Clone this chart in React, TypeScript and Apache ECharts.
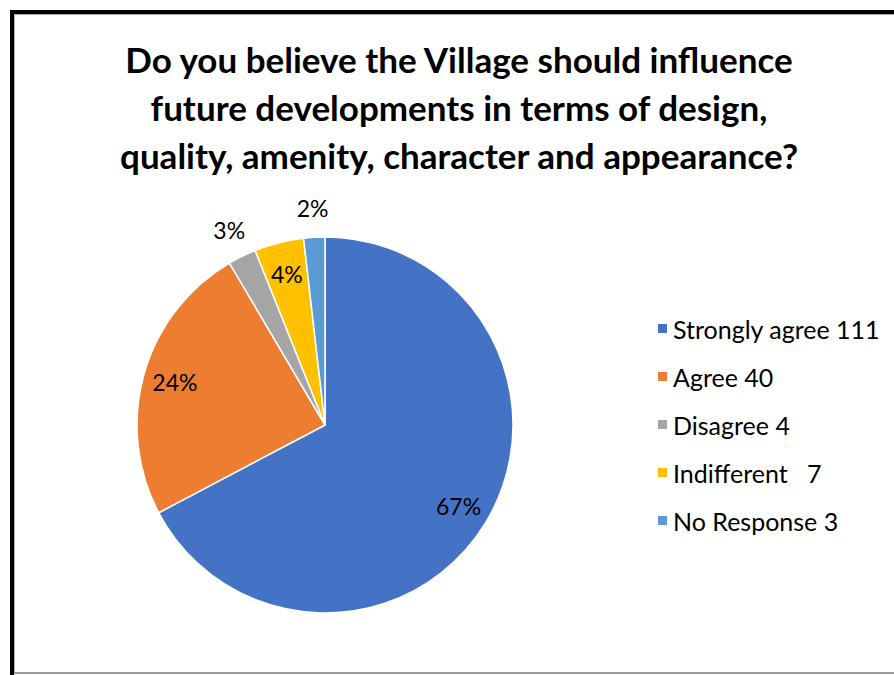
import React, { useEffect, useRef } from "react";
import * as echarts from "echarts";

const titleLines = [
  "Do you believe the Village should influence",
  "future developments in terms of design,",
  "quality, amenity, character and appearance?",
];
const categories = [
  "Strongly agree 111",
  "Agree 40",
  "Disagree 4",
  "Indifferent   7",
  "No Response 3",
];
const values = [111, 40, 4, 7, 3];
const colors = ["#4472C4", "#ED7D31", "#A5A5A5", "#FFC000", "#5B9BD5"];
// which labels sit outside the pie (small slices)
const outsideLabel = [false, false, true, false, true];

const FONT = "Lato, 'Open Sans', sans-serif";

export default function App() {
  const ref = useRef<HTMLDivElement>(null);
  useEffect(() => {
    if (!ref.current) return;
    const chart = echarts.init(ref.current, undefined, { renderer: "svg" });
    const center = [325, 425];
    const R = 188;
    const baseData = categories.map((n, i) => ({
      name: n,
      value: values[i],
      itemStyle: { color: colors[i] },
    }));
    const labelStyle = {
      fontFamily: FONT,
      fontSize: 23,
      color: "#000",
      formatter: "{d}%",
    };
    chart.setOption({
      animation: false,
      backgroundColor: "#fff",
      title: {
        text: titleLines.join("\n"),
        left: 454,
        textAlign: "center",
        top: 30,
        textStyle: {
          fontFamily: FONT,
          fontWeight: "bold",
          fontSize: 35,
          lineHeight: 48,
          color: "#000",
        },
      },
      legend: {
        orient: "vertical",
        left: 651,
        top: 311,
        icon: "rect",
        itemWidth: 11,
        itemHeight: 11,
        itemGap: 23,
        data: categories,
        selectedMode: false,
        textStyle: {
          fontFamily: FONT,
          fontSize: 25,
          color: "#000",
          padding: [0, 0, 0, 0],
        },
      },
      graphic: [
        { type: "rect", shape: { x: 10, y: 10, width: 900, height: 4 }, style: { fill: "#000" } },
        { type: "rect", shape: { x: 10, y: 10, width: 4, height: 670 }, style: { fill: "#000" } },
        { type: "rect", shape: { x: 14, y: 14, width: 900, height: 1 }, style: { fill: "#aaa" } },
        { type: "rect", shape: { x: 14, y: 14, width: 1, height: 660 }, style: { fill: "#aaa" } },
        { type: "rect", shape: { x: 14, y: 672, width: 900, height: 2 }, style: { fill: "#999" } },
      ],
      series: [
        {
          type: "pie",
          center,
          radius: R,
          startAngle: 90,
          clockwise: true,
          silent: true,
          data: baseData,
          label: { show: false },
          labelLine: { show: false },
          itemStyle: { borderColor: "#fff", borderWidth: 1.5 },
        },
        {
          type: "pie",
          center,
          radius: [0, 306],
          startAngle: 90,
          silent: true,
          percentPrecision: 0,
          data: categories.map((n, i) => ({
            name: n,
            value: values[i],
            itemStyle: { color: "rgba(0,0,0,0)" },
            label: { show: !outsideLabel[i] },
          })),
          label: { ...labelStyle, position: "inside" },
          labelLine: { show: false },
        },
        {
          type: "pie",
          center,
          radius: [0, 428],
          startAngle: 90,
          silent: true,
          percentPrecision: 0,
          data: categories.map((n, i) => ({
            name: n,
            value: values[i],
            itemStyle: { color: "rgba(0,0,0,0)" },
            label: { show: outsideLabel[i] },
          })),
          label: { ...labelStyle, position: "inside" },
          labelLine: { show: false },
        },
      ],
    });
    return () => chart.dispose();
  }, []);
  return (
    <div style={{ position: "absolute", left: 0, top: 0, width: 894, height: 675, background: "#fff" }}>
      <div ref={ref} style={{ width: 894, height: 675 }} />
    </div>
  );
}
